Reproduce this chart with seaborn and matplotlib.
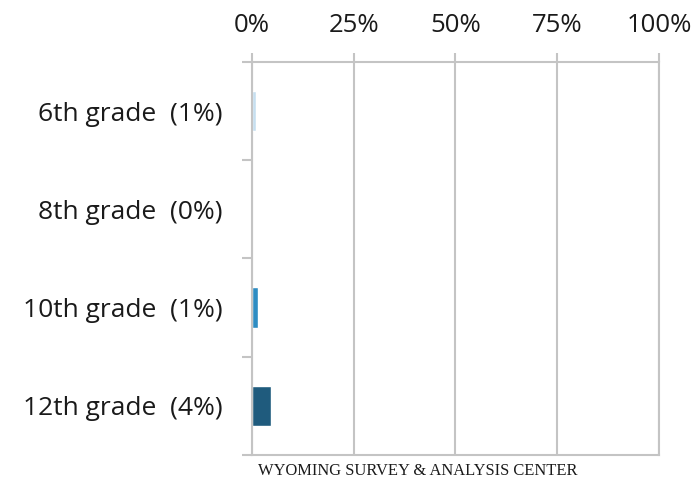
import matplotlib
matplotlib.use("Agg")
import matplotlib.pyplot as plt
import seaborn as sns
import pandas as pd
import numpy as np

grades = ["6th grade", "8th grade", "10th grade", "12th grade"]
values = [0.9, 0.0, 1.4, 4.6]
shown = ["1%", "0%", "1%", "4%"]
colors = ["#c6dff0", "#d0d0d0", "#2e8cc2", "#1f5b7d"]
xticks = [0, 25, 50, 75, 100]

sns.set_theme(style="white")
plt.rcParams['font.family'] = ['Open Sans', 'DejaVu Sans']

labels = [f"{g}  ({s})" for g, s in zip(grades, shown)]
df = pd.DataFrame({"label": labels, "value": values})

fig = plt.figure(figsize=(6.98, 4.82), dpi=100)
ax = fig.add_axes([0.361, 0.056, 0.583, 0.8154])

sns.barplot(data=df, x="value", y="label", hue="label", palette=colors,
            orient="h", width=0.41, legend=False, ax=ax, saturation=1)

grid_c = "#c4c4c4"
ax.set_xlim(0, 100)
ax.set_ylim(3.5, -0.5)
ax.set_xticks(xticks)
ax.set_xticklabels([f"{t}%" for t in xticks])
ax.xaxis.tick_top()
ax.grid(axis="x", color=grid_c, linewidth=1.5)
ax.set_axisbelow(True)
ax.set_xlabel("")
ax.set_ylabel("")

ax.set_yticks(range(len(labels)))
ax.set_yticklabels(labels)
ax.set_yticks(np.arange(-0.5, len(labels), 1.0), minor=True)
ax.tick_params(axis="y", which="major", length=0, pad=21, labelsize=19, labelcolor="#1a1a1a")
ax.tick_params(axis="y", which="minor", length=7, width=1.5, color=grid_c, left=True)
ax.tick_params(axis="x", which="major", length=6.5, width=1.5, color=grid_c, top=True,
               bottom=False, pad=10.5, labelsize=18.5, labelcolor="#1a1a1a")

for side in ["left", "top", "bottom", "right"]:
    ax.spines[side].set_color(grid_c)
    ax.spines[side].set_linewidth(1.5)
    ax.spines[side].set_visible(True)

fig.text(0.369, 0.023, "WYOMING SURVEY & ANALYSIS CENTER", family="Liberation Serif",
         fontsize=11.9, color="#1a1a1a", ha="left", va="center")

fig.savefig("out.png", dpi=100)
